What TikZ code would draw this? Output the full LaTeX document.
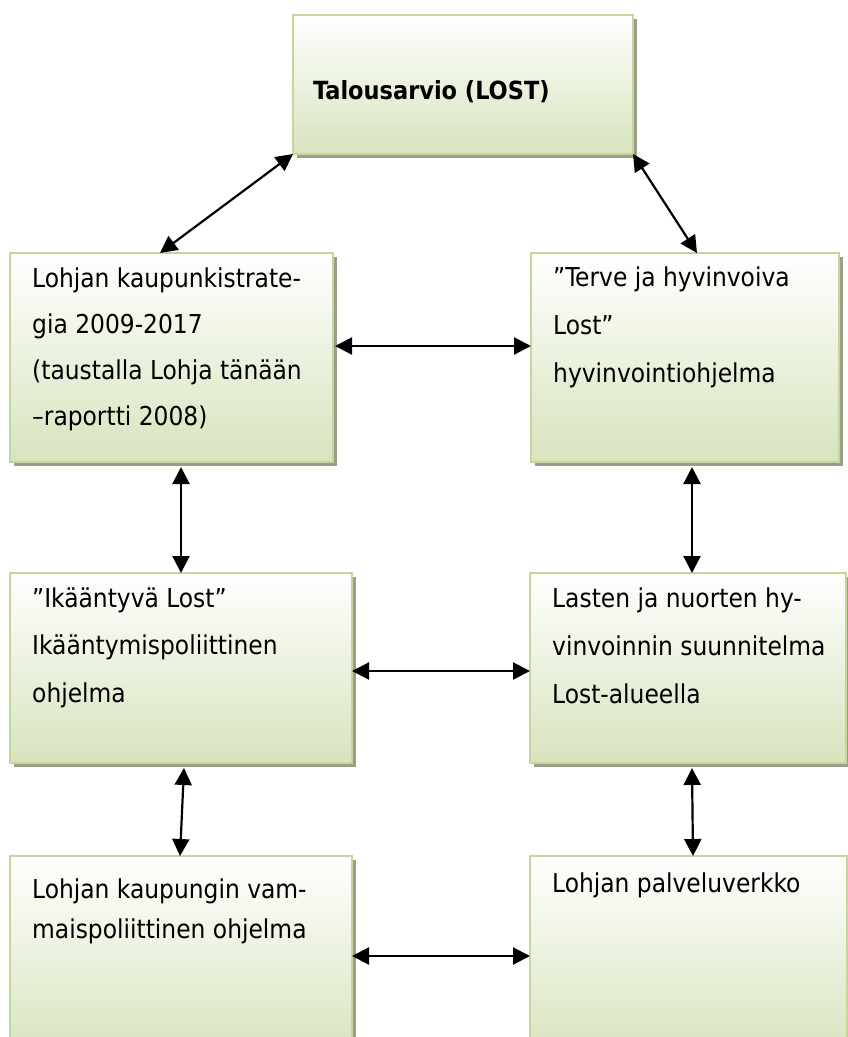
\documentclass[tikz,border=0pt]{standalone}
\usepackage{fontspec}
\setmainfont{DejaVu Sans Condensed}
\usetikzlibrary{arrows.meta,shadows}
\definecolor{boxborder}{HTML}{C3D69B}
\definecolor{boxgreen}{HTML}{D7E4BD}
\definecolor{shadowgray}{HTML}{9C9E8A}
\tikzset{
  box/.style={draw=boxborder, line width=2.5pt, top color=white, bottom color=boxgreen,
    inner sep=0pt, outer sep=0pt, anchor=north west,
    general shadow={fill=shadowgray, shadow xshift=4pt, shadow yshift=-4pt}},
  txt/.style={anchor=base west, align=left, inner sep=0pt, font=\fontsize{26}{#1}\selectfont},
  ttl/.style={anchor=base west, inner sep=0pt, font=\bfseries\fontsize{25}{30}\selectfont},
  link/.style={line width=2.2pt, {Triangle[width=17pt,length=17pt]}-{Triangle[width=17pt,length=17pt]}}
}
\begin{document}
\begin{tikzpicture}[x=1pt,y=-1pt]
\useasboundingbox (0,0) rectangle (848,1037);
\clip (0,0) rectangle (848,1037);
% boxes
\node[box, minimum width=340pt, minimum height=139pt] (t)  at (293,15)  {};
\node[box, minimum width=323pt, minimum height=209pt] (l2) at (10,253)  {};
\node[box, minimum width=308pt, minimum height=209pt] (r2) at (531,253) {};
\node[box, minimum width=342pt, minimum height=190pt] (l3) at (10,573)  {};
\node[box, minimum width=316pt, minimum height=190pt] (r3) at (530,573) {};
\node[box, minimum width=342pt, minimum height=200pt] (l4) at (10,856)  {};
\node[box, minimum width=317pt, minimum height=200pt] (r4) at (530,856) {};
% texts (anchored at the baseline of the last line)
\node[ttl] (tt) at (313,99) {Talousarvio (LOST)};
\node[txt=46] (x2) at (32,425) {Lohjan kaupunkistrate-\\gia 2009-2017\\(taustalla Lohja tänään\\–raportti 2008)};
\node[txt=48] (y2) at (553,382) {”Terve ja hyvinvoiva\\Lost”\\hyvinvointiohjelma};
\node[txt=47.5] (x3) at (32,702) {”Ikääntyvä Lost”\\Ikääntymispoliittinen\\ohjelma};
\node[txt=48] (y3) at (552,703) {Lasten ja nuorten hy-\\vinvoinnin suunnitelma\\Lost-alueella};
\node[txt=40] (x4) at (32,938) {Lohjan kaupungin vam-\\maispoliittinen ohjelma};
\node[txt=40] (y4) at (552,892) {Lohjan palveluverkko};
% connectors
\draw[link] (t.south west) -- ([xshift=150pt]l2.north west);
\draw[link] (t.south east) -- ([xshift=166pt]r2.north west);
\draw[link] ([shift={(2pt,-93pt)}]l2.north east) -- ([yshift=-93pt]r2.north west);
\draw[link] ([shift={(171pt,-5pt)}]l2.south west) -- ([xshift=171pt]l3.north west);
\draw[link] ([shift={(161pt,-5pt)}]r2.south west) -- ([xshift=162pt]r3.north west);
\draw[link] ([yshift=-98pt]l3.north east) -- ([yshift=-98pt]r3.north west);
\draw[link] ([shift={(174pt,-5pt)}]l3.south west) -- ([xshift=170pt]l4.north west);
\draw[link] ([shift={(162pt,-5pt)}]r3.south west) -- ([xshift=163pt]r4.north west);
\draw[link] ([yshift=-100pt]l4.north east) -- ([yshift=-100pt]r4.north west);
\end{tikzpicture}
\end{document}
